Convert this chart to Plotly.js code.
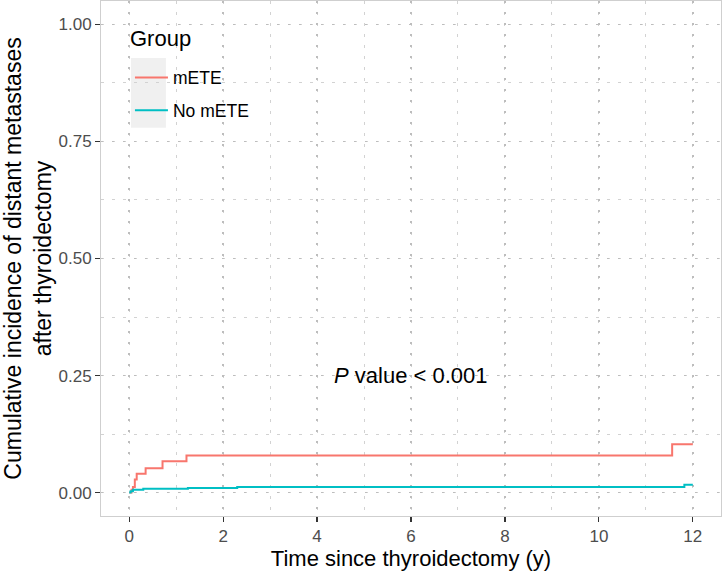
<!DOCTYPE html>
<html>
<head>
<meta charset="utf-8">
<script src="https://cdn.plot.ly/plotly-3.0.1.min.js"></script>
<style>html,body{margin:0;padding:0;background:#fff}#chart{width:722px;height:571px}</style>
</head>
<body>
<div id="chart"></div>
<script>
// Data (cumulative incidence step curves)
const groupNames = ["mETE", "No mETE"];
const groupColors = ["#F8766D", "#00BFC4"];
const legendTitle = "Group";
const mETETime = [0, 0.05, 0.08, 0.12, 0.16, 0.35, 0.71, 1.22, 11.56, 12];
const mETEInc  = [0, 0.006, 0.012, 0.028, 0.040, 0.052, 0.067, 0.079, 0.103, 0.103];
const noMETETime = [0, 0.03, 0.08, 0.3, 1.25, 2.3, 11.82, 12];
const noMETEInc  = [0, 0.003, 0.006, 0.008, 0.010, 0.012, 0.017, 0.017];
const xTickVals = [0, 2, 4, 6, 8, 10, 12];
const yTickVals = [0, 0.25, 0.5, 0.75, 1.0];
const yTickText = ["0.00", "0.25", "0.50", "0.75", "1.00"];
const pLabel = "<i>P</i> value &lt; 0.001";
const pPos = {x: 6, y: 0.25};

const FONT = "Liberation Sans, Arial, Helvetica, sans-serif";

const traces = [
  {x: mETETime, y: mETEInc, name: groupNames[0], legendgroup: "a",
   type: "scatter", mode: "lines", line: {shape: "hv", color: groupColors[0], width: 2}},
  {x: noMETETime, y: noMETEInc, name: groupNames[1], legendgroup: "b",
   type: "scatter", mode: "lines", line: {shape: "hv", color: groupColors[1], width: 2}}
];

const majorGrid = {showgrid: true, gridcolor: "#bdbdbd", gridwidth: 1.6, griddash: "2px,9px"};
const minorGrid = {showgrid: true, gridcolor: "#d2d2d2", gridwidth: 1, griddash: "3px,8px", ticklen: 0};

const layout = {
  width: 722, height: 571,
  margin: {l: 101, r: 1, t: 1, b: 55},
  paper_bgcolor: "#ffffff", plot_bgcolor: "#ffffff",
  font: {family: FONT, color: "#000000"},
  showlegend: true,
  xaxis: Object.assign({
    range: [-0.6, 12.6], tickmode: "array", tickvals: xTickVals,
    ticks: "outside", ticklen: 5, tickwidth: 1.2, tickcolor: "#333333",
    tickfont: {size: 17, color: "#4d4d4d", family: FONT},
    showline: true, mirror: true, linecolor: "#cfcfcf", linewidth: 1,
    zeroline: false,
    minor: Object.assign({dtick: 1, tick0: 0}, minorGrid),
    title: {text: "Time since thyroidectomy (y)", font: {size: 22, color: "#000", family: FONT}, standoff: 7}
  }, majorGrid),
  yaxis: Object.assign({
    range: [-0.05, 1.05], tickmode: "array", tickvals: yTickVals, ticktext: yTickText,
    ticks: "outside", ticklen: 5, tickwidth: 1.2, tickcolor: "#333333",
    tickfont: {size: 17, color: "#4d4d4d", family: FONT},
    showline: true, mirror: true, linecolor: "#cfcfcf", linewidth: 1,
    zeroline: false,
    minor: Object.assign({dtick: 0.125, tick0: 0}, minorGrid),
    title: {text: "Cumulative incidence of distant metastases<br>after thyroidectomy", font: {size: 23, color: "#000", family: FONT}, standoff: 7}
  }, majorGrid),
  legend: {
    x: 0.0467, y: 0.886, xanchor: "left", yanchor: "top",
    bgcolor: "rgba(0,0,0,0)", borderwidth: 0,
    font: {size: 17.5, color: "#000", family: FONT},
    itemwidth: 33,
    tracegroupgap: 7
  },
  shapes: [
    {type: "rect", xref: "paper", yref: "paper", x0: 0.0274, x1: 0.269, y0: 0.740, y1: 0.975,
     fillcolor: "#ffffff", line: {width: 0}, layer: "between"},
    {type: "rect", xref: "paper", yref: "paper", x0: 0.0483, x1: 0.1047, y0: 0.754, y1: 0.8895,
     fillcolor: "#f0f0f0", line: {width: 0}, layer: "between"}
  ],
  annotations: [
    {x: 0.043, y: 0.928, xref: "paper", yref: "paper", xanchor: "left", yanchor: "middle",
     text: legendTitle, showarrow: false, font: {size: 22, color: "#000", family: FONT}},
    {x: pPos.x, y: pPos.y, xref: "x", yref: "y", text: pLabel, showarrow: false,
     font: {size: 22, color: "#000", family: FONT}}
  ]
};

Plotly.newPlot("chart", traces, layout, {displayModeBar: false, staticPlot: true});
</script>
</body>
</html>
